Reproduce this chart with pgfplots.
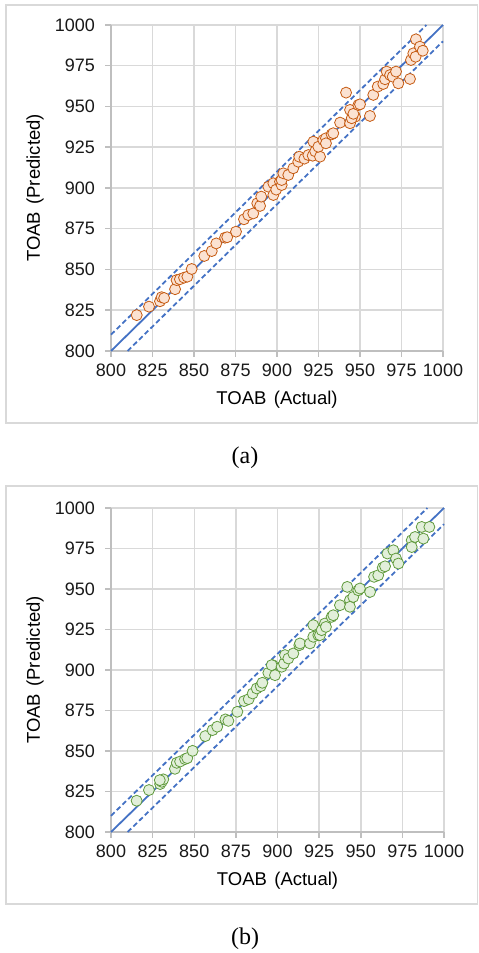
\documentclass[border=0pt]{standalone}
\usepackage{fontspec}
\setmainfont{Liberation Sans}
\newfontfamily\capfont{Liberation Serif}
\usepackage{pgfplots}
\pgfplotsset{compat=1.18}
\definecolor{axgray}{HTML}{BFBFBF}
\definecolor{gridgray}{HTML}{D9D9D9}
\definecolor{boxgray}{HTML}{D9D9D9}
\definecolor{lineblue}{HTML}{4472C4}
\definecolor{oedge}{HTML}{C55A11}
\definecolor{ofill}{HTML}{FBE2D2}
\definecolor{gedge}{HTML}{609A3C}
\definecolor{gfill}{HTML}{E2EFDA}

\pgfplotstableread{
x y
815.5 822
822.9 827.2
829.5 830.5
830.5 833
832 832.5
838.6 837.9
839.5 843.5
841.5 844
844 845
846 845.6
848.6 850.3
856.2 858.3
860.7 861.3
863.4 866
868.7 869.5
870 869.8
875.3 873.2
880.1 880.8
882.7 883.4
885.7 884.4
888.1 890.6
889.8 889
890.5 894.7
894.8 900.8
897.8 902.9
897.8 895.7
899.5 899
901.8 903.9
902.8 901.8
902.8 904.9
903.8 909
906.8 908
909.8 912.1
912.8 916.1
913.4 919.2
916.5 918
918.9 920.2
921.5 919.8
921.9 928.4
923 922.5
925.9 919.2
924.9 925.3
927.9 929.4
929.5 930.5
929.5 927.4
932.9 932.9
933.9 933.6
938 940.1
941.6 958.5
944 947.9
944 939.7
947 943.7
945 942.8
946 945.5
949 950.9
950 951.3
956 944.2
958 957.1
960.7 962.2
964 963.8
965.1 966.7
966.1 971.4
968.1 969.3
969.7 968.3
971.7 971.4
973.1 964.2
980.1 966.9
980.7 978.5
982.1 982.6
983.5 980.5
983.7 991.2
986.1 986.7
987.8 984.2
}\dataA

\pgfplotstableread{
x y
815.4 819.3
822.8 825.9
829.5 829.6
830.5 831
831.4 832.5
829.3 832
838.4 839
839.5 842.7
841.5 843.5
844.5 845
845.8 845.6
849 850.1
856.6 859.2
861 862.9
863.8 865
868.7 869.5
870.5 868.6
875.9 874.2
879.9 880.8
882.7 882
885.1 885.5
887.5 888.6
889.9 890
890.9 892.1
894.5 898.2
897.1 903
898.5 896.8
896.5 903
902.5 902
903.9 904
904.5 909.2
906.5 907.1
909.5 910.2
913.1 915.3
913.5 916.4
919.5 916.4
921.5 920.5
921.5 927.7
924.5 921.5
925.5 921.5
926.5 924.6
928.5 928.7
929.1 926.6
932.5 932.8
933.5 933.8
937.5 940
941.9 951.3
943.5 943.1
943.5 939
945.5 945.1
948.5 949.2
949.5 950.3
955.6 948.2
958 957.5
960.5 958.5
963.2 963.2
964.6 964
966 971.9
969.6 973.9
971.2 968.8
972.6 965.7
980.6 980.1
980.6 975.9
982.6 982.1
987.6 981.1
986.6 988.3
991.2 988.3
}\dataB

\pgfplotsset{myax/.style={
  scale only axis, width=332bp, height=326bp,
  xmin=800, xmax=1000, ymin=800, ymax=1000,
  xtick={800,825,...,1000}, ytick={800,825,...,1000},
  axis x line*=bottom, axis y line*=left,
  axis line style={draw=axgray, line width=1.5bp},
  grid=major, grid style={draw=gridgray, line width=1.5bp},
  tick align=outside, major tick length=6bp,
  tick style={draw=axgray, line width=1.5bp},
  /pgf/number format/assume math mode=true,
  /pgf/number format/1000 sep={},
  ticklabel style={font=\fontsize{18bp}{20bp}\selectfont, text=black!90},
  xticklabel style={inner sep=0pt, yshift=-7bp},
  yticklabel style={inner sep=0pt, xshift=-10bp},
  clip=false,
}}

\begin{document}
\begin{tikzpicture}[x=1bp,y=1bp]
\useasboundingbox (0,0) rectangle (479,953);
% boxes
\draw[boxgray, line width=1.5bp] (6,530) rectangle (477.5,948);
\draw[boxgray, line width=1.5bp] (6,49) rectangle (477.5,467);
\node[font=\capfont\fontsize{24bp}{28bp}\selectfont] at (245,495) {(a)};
\node[font=\capfont\fontsize{24bp}{28bp}\selectfont] at (245,14) {(b)};

\begin{axis}[myax, at={(111bp,602bp)}, anchor=south west]
\addplot[lineblue, line width=1.8bp, no marks] coordinates {(800,800) (1000,1000)};
\addplot[lineblue, line width=1.8bp, no marks, dash pattern=on 5bp off 3bp] coordinates {(800,810) (990,1000)};
\addplot[lineblue, line width=1.8bp, no marks, dash pattern=on 5bp off 3bp] coordinates {(810,800) (1000,990)};
\addplot[only marks, mark=*, mark size=5.5bp, mark options={draw=oedge, fill=ofill, line width=0.8bp}] table[x=x,y=y] {\dataA};
\node[font=\fontsize{18.5bp}{22bp}\selectfont] at ([yshift=-49bp]axis description cs:0.5,0) {TOAB\hspace{0.4em}(Actual)};
\node[rotate=90, font=\fontsize{18.5bp}{22bp}\selectfont] at ([xshift=-76bp]axis description cs:0,0.5) {TOAB\hspace{0.4em}(Predicted)};
\end{axis}

\begin{axis}[myax, height=324bp, width=333bp, at={(111bp,121bp)}, anchor=south west]
\addplot[lineblue, line width=1.8bp, no marks] coordinates {(800,800) (1000,1000)};
\addplot[lineblue, line width=1.8bp, no marks, dash pattern=on 5bp off 3bp] coordinates {(800,810) (990,1000)};
\addplot[lineblue, line width=1.8bp, no marks, dash pattern=on 5bp off 3bp] coordinates {(810,800) (1000,990)};
\addplot[only marks, mark=*, mark size=5.5bp, mark options={draw=gedge, fill=gfill, line width=0.8bp}] table[x=x,y=y] {\dataB};
\node[font=\fontsize{18.5bp}{22bp}\selectfont] at ([yshift=-49bp]axis description cs:0.5,0) {TOAB\hspace{0.4em}(Actual)};
\node[rotate=90, font=\fontsize{18.5bp}{22bp}\selectfont] at ([xshift=-76bp]axis description cs:0,0.5) {TOAB\hspace{0.4em}(Predicted)};
\end{axis}
\end{tikzpicture}
\end{document}
